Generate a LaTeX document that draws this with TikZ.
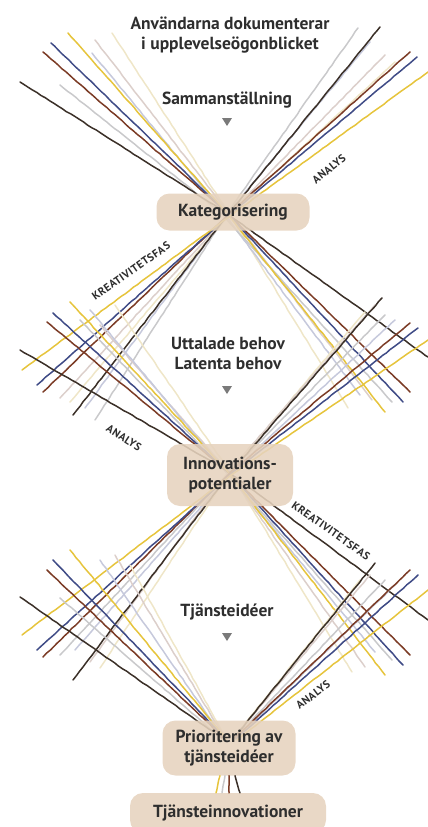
\documentclass[tikz,border=0pt]{standalone}
\usepackage{fontspec}
\setmainfont{PT Sans}
\usetikzlibrary{decorations.pathmorphing}

\definecolor{dark}{HTML}{3B3028}
\definecolor{brown}{HTML}{7B3B25}
\definecolor{blue}{HTML}{3F4B86}
\definecolor{yellow}{HTML}{E6C43C}
\definecolor{lgrey}{HTML}{C9C9CB}
\definecolor{lblue}{HTML}{C6C9DC}
\definecolor{lpink}{HTML}{DCCFCB}
\definecolor{lbeige}{HTML}{EFE6C8}
\definecolor{nodebg}{HTML}{E6D3BE}
\definecolor{ink}{HTML}{2E2E2E}
\definecolor{arrowgrey}{HTML}{7A7A7A}

\begin{document}
\begin{tikzpicture}[x=1pt,y=-1pt,
  thread/.style={line width=1.5pt,line cap=round,line join=round,decorate,
    decoration={random steps,segment length=5pt,amplitude=0.3pt}},
  stage/.style={rounded corners=13pt,fill=nodebg,fill opacity=0.88,text opacity=1,
    text=ink,font=\bfseries\fontsize{17.5}{20}\selectfont,align=center,inner sep=2pt},
  title/.style={text=ink,font=\bfseries\fontsize{17.5}{20}\selectfont,align=center},
  phase/.style={text=ink,inner sep=1pt,font=\bfseries\fontsize{11}{12}\selectfont\addfontfeatures{LetterSpace=4}}]
\pgfmathsetseed{7}
\clip (0,0) rectangle (428,827);

% threads crossing at Kategorisering
\foreach \c/\ax/\ay/\mx/\my/\bx/\by in {
  lbeige/112/33/228/212/348/408, lblue/92/53/223/212/360/395,
  lpink/95/40/227/211/372/400, lgrey/60/85/220/212/392/402,
  dark/20/82/222/210/428/357, brown/43/52/224/210/410/392,
  blue/51/43/225/211/403/402, yellow/68/33/226/212/385/412,
  lbeige/395/62/231/213/70/402, lblue/370/42/229/212/85/408,
  lpink/385/55/231/212/60/398, lgrey/358/28/228/212/95/420,
  dark/380/27/230/212/73/415, brown/410/52/232/211/43/392,
  blue/417/57/233/212/37/385, yellow/428/72/234/213/22/370}
  \draw[thread,\c] (\ax,\ay) -- (\mx,\my) -- (\bx,\by);

% threads crossing at Innovationspotentialer
\foreach \c/\ax/\ay/\mx/\my/\bx/\by in {
  lbeige/115/305/230/472/352/672, lpink/100/325/228/471/365/667,
  lblue/90/310/227/473/375/652, lgrey/80/320/226/472/392/660,
  lbeige/365/312/230/472/100/668, lpink/375/305/229/471/90/662,
  lblue/395/320/231/473/75/650, lgrey/385/315/230/472/60/655,
  dark/20/350/226/470/428/620, brown/47/322/227/471/410/655,
  blue/53/313/228/472/403/665, yellow/70/302/229/473/385/675,
  dark/382/298/231/472/73/680, brown/410/323/232/471/43/657,
  blue/418/328/233/472/37/650, yellow/428/340/234/473/22/635}
  \draw[thread,\c] (\ax,\ay) -- (\mx,\my) -- (\bx,\by);

% threads ending in Prioritering
\foreach \c/\ax/\ay/\mx/\my in {
  lbeige/130/565/227/740, lpink/115/555/226/740, lblue/100/560/225/740,
  lgrey/60/598/223/740, lbeige/360/580/232/740, lpink/370/575/233/739,
  lblue/395/585/234/740, lgrey/385/580/233/740,
  dark/20/597/222/738, brown/47/570/224/738, blue/53/560/225/738,
  yellow/70/550/226/739, dark/375/563/234/738, brown/410/570/235/738,
  blue/418/575/236/739, yellow/428/590/237/740}
  \draw[thread,\c] (\ax,\ay) -- (\mx,\my);

% stages
\node[stage,minimum width=153pt,minimum height=37pt] (kat) at (233,212) {Kategorisering};
\node[stage,minimum width=126pt,minimum height=62pt] (ipot) at (230,475) {Innovations-\\potentialer};
\node[stage,minimum width=133pt,minimum height=55pt] (prio) at (229,748) {Prioritering av\\tjänsteidéer};
\node[stage,minimum width=196pt,minimum height=40pt] (tji) at (228,813) {Tjänsteinnovationer};

% short threads down to the last stage
\foreach \c/\dx/\ex in {lgrey/-4/-6, yellow/-9/-12, brown/0/1, dark/6/12}
  \draw[thread,\c] ([xshift=\dx pt]prio.south) -- ([xshift=\ex pt]tji.north);

% texts inside the diamonds
\node[title] (doc) at (230,35) {Användarna dokumenterar\\i upplevelseögonblicket};
\node[title] (samm) at (227,100) {Sammanställning};
\node[title] (behov) at (228,353) {Uttalade behov\\Latenta behov};
\node[title] (ideer) at (227,612) {Tjänsteidéer};
\foreach \y in {122,390,637}
  \fill[arrowgrey] (222,\y-4) -- (232,\y-4) -- (227,\y+4) -- cycle;

% phase labels along the threads
\node[phase,rotate=39] (an1) at (329,169) {ANALYS};
\node[phase,rotate=35] (kr1) at (131,271) {KREATIVITETSFAS};
\node[phase,rotate=-33] (an2) at (124,438) {ANALYS};
\node[phase,rotate=-35] (kr2) at (331,531) {KREATIVITETSFAS};
\node[phase,rotate=37] (an3) at (313,695) {ANALYS};
\end{tikzpicture}
\end{document}
